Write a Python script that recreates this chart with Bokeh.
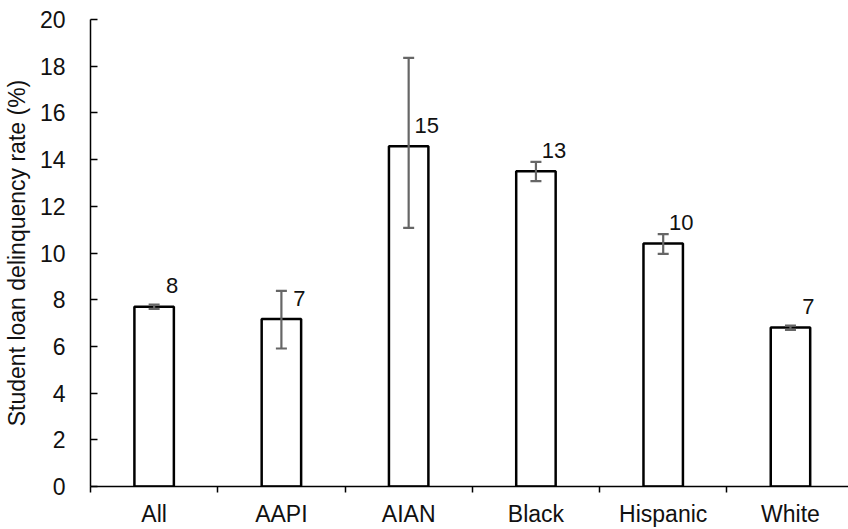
from bokeh.plotting import figure
from bokeh.models import Range1d, FixedTicker, ColumnDataSource, Whisker, TeeHead
from bokeh.core.properties import value
from bokeh.embed import file_html
from bokeh.resources import INLINE

categories = ["All", "AAPI", "AIAN", "Black", "Hispanic", "White"]
rates = [7.70, 7.17, 14.57, 13.50, 10.41, 6.81]
err_lower = [7.61, 5.91, 11.08, 13.08, 9.96, 6.71]
err_upper = [7.79, 8.38, 18.36, 13.90, 10.81, 6.89]
rate_labels = ["8", "7", "15", "13", "10", "7"]
y_ticks = [0, 2, 4, 6, 8, 10, 12, 14, 16, 18, 20]

FONT = "Liberation Sans"
n = len(categories)
xpos = [i + 0.5 for i in range(n)]
src = ColumnDataSource(dict(x=xpos, top=rates, lower=err_lower, upper=err_upper, lab=rate_labels))

p = figure(width=848, height=529, output_backend="svg", toolbar_location=None,
           x_range=Range1d(0, 5.956), y_range=Range1d(0, 20),
           min_border_left=88, min_border_right=0, min_border_top=19, min_border_bottom=42)
p.outline_line_color = None
p.xgrid.visible = False
p.ygrid.visible = False
p.background_fill_color = "white"
p.border_fill_color = "white"

p.vbar(x="x", top="top", bottom=0, width=0.31, source=src,
       fill_color="white", line_color="black", line_width=2.5)

head_kw = dict(size=11, line_color="#666666", line_width=2.2)
w = Whisker(base="x", upper="upper", lower="lower", source=src,
            line_color="#666666", line_width=2.2, level="overlay",
            upper_head=TeeHead(**head_kw), lower_head=TeeHead(**head_kw))
p.add_layout(w)

p.text(x="x", y="top", text="lab", source=src, x_offset=18, y_offset=-21,
       text_align="center", text_baseline="middle",
       text_font=value(FONT), text_font_size="22px", text_color="#111111")

# x axis
xa = p.xaxis[0]
xa.ticker = FixedTicker(ticks=xpos, minor_ticks=list(range(n + 1)))
xa.major_label_overrides = {x: c for x, c in zip(xpos, categories)}
xa.major_tick_in = 0
xa.major_tick_out = 0
xa.minor_tick_in = 0
xa.minor_tick_out = 6
xa.minor_tick_line_color = "black"
xa.minor_tick_line_width = 1.5
xa.axis_line_color = "black"
xa.axis_line_width = 1.5
xa.major_label_standoff = 8
xa.major_label_text_font = FONT
xa.major_label_text_font_size = "23px"
xa.major_label_text_color = "#111111"

# y axis
ya = p.yaxis[0]
ya.ticker = FixedTicker(ticks=y_ticks)
ya.major_tick_in = 7
ya.major_tick_out = 0
ya.minor_tick_in = 0
ya.minor_tick_out = 0
ya.major_tick_line_color = "black"
ya.major_tick_line_width = 1.5
ya.axis_line_color = "black"
ya.axis_line_width = 1.5
ya.major_label_standoff = 25
ya.major_label_text_font = FONT
ya.major_label_text_font_size = "23px"
ya.major_label_text_color = "#111111"
ya.axis_label = "Student loan delinquency rate (%)"
ya.axis_label_text_font = FONT
ya.axis_label_text_font_size = "23px"
ya.axis_label_text_font_style = "normal"
ya.axis_label_text_color = "#111111"
ya.axis_label_standoff = 7

open("out.html", "w").write(file_html(p, INLINE))
